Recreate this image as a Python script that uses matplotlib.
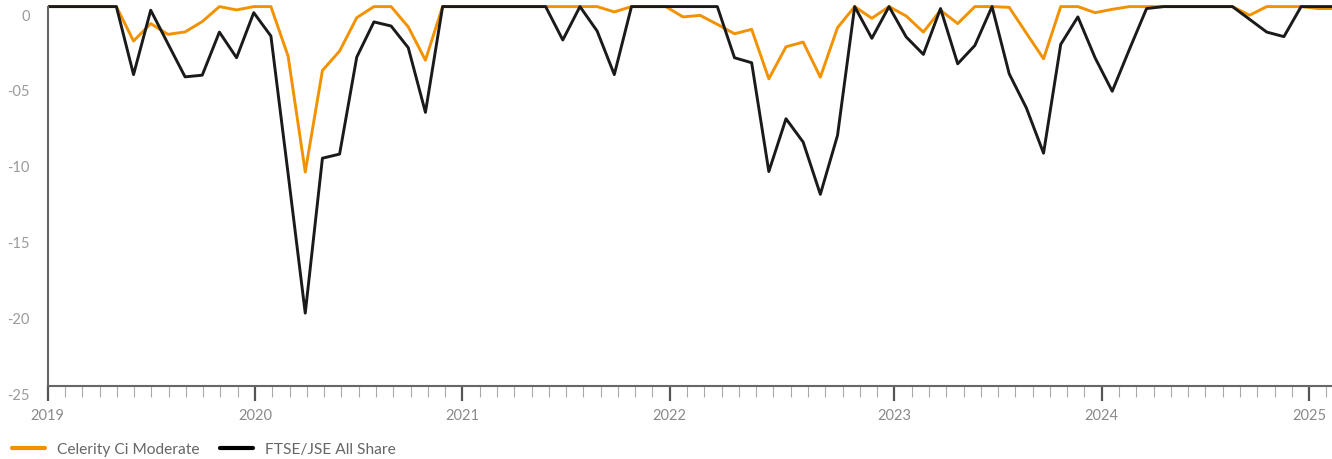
import numpy as np
import matplotlib
matplotlib.use('Agg')
import matplotlib.pyplot as plt
from matplotlib.lines import Line2D
from matplotlib.transforms import ScaledTranslation

# drawdown (%) per month, Jan 2019 onwards
celerity = [0, 0, 0, 0, 0, -2.27, -1.12, -1.83, -1.67, -0.99,
            0, -0.22, 0, 0, -3.26, -10.9, -4.21, -2.93, -0.73, 0,
            0, -1.34, -3.53, 0, 0, 0, 0, 0, 0, 0,
            0, 0, 0, -0.35, 0, 0, 0, -0.68, -0.58, -1.17,
            -1.79, -1.5, -4.76, -2.65, -2.34, -4.65, -1.39, 0, -0.77, 0,
            -0.62, -1.68, -0.24, -1.12, 0, 0, -0.05, -1.75, -3.44, 0,
            0, -0.4, -0.18, 0, 0, 0, 0, 0, 0, 0,
            -0.57, 0, 0, 0, -0.13, -0.13]
ftse = [0, 0, 0, 0, 0, -4.48, -0.24, -2.44, -4.63, -4.52,
        -1.68, -3.37, -0.4, -1.94, -11.0, -20.2, -9.99, -9.72, -3.33, -1.01,
        -1.28, -2.71, -6.97, 0, 0, 0, 0, 0, 0, 0,
        -2.2, 0, -1.61, -4.48, 0, 0, 0, 0, 0, 0,
        -3.37, -3.7, -10.87, -7.39, -8.93, -12.37, -8.49, 0, -2.09, 0,
        -2.0, -3.15, -0.13, -3.77, -2.56, 0, -4.43, -6.68, -9.66, -2.49,
        -0.68, -3.37, -5.58, -2.82, -0.13, 0, 0, 0, 0, 0,
        -0.84, -1.68, -1.98, 0, 0, 0]
series_names = ['Celerity Ci Moderate', 'FTSE/JSE All Share']
year_labels = ['2019', '2020', '2021', '2022', '2023', '2024', '2025']
year_ticks = [0, 12, 24, 36, 49, 61, 73]
y_ticks = [0, -5, -10, -15, -20, -25]
y_labels = ['0', '-05', '-10', '-15', '-20', '-25']

orange = '#f39200'
dark = '#1a1a1a'

plt.rcParams['font.family'] = ['Lato', 'DejaVu Sans']

fig = plt.figure(figsize=(13.32, 4.6), dpi=100)
ax = fig.add_axes([47.7 / 1332, 1 - 387 / 460, 1 - 47.7 / 1332, 387 / 460])

x = np.arange(len(celerity))
ax.plot(x, celerity, color=orange, lw=2.1)
ax.plot(x, ftse, color=dark, lw=2.1)

ax.set_xlim(0, 74.8)
ax.set_ylim(-25, 0.5)

# axis ticks are spaced a touch wider than the points
tick_step = 17.28 / 17.17
ax.set_xticks(np.array(year_ticks) * tick_step, year_labels)
ax.set_xticks(np.arange(0, 75) * tick_step, minor=True)
ax.tick_params(axis='x', which='major', length=11, width=1.6, color='#555555',
               labelcolor='#8a8a8a', labelsize=10.5, pad=5)
ax.tick_params(axis='x', which='minor', length=8, width=0.8, color='#aaaaaa')

ax.set_yticks(y_ticks, y_labels)
ax.tick_params(axis='y', length=0, pad=13, labelcolor='#9a9a9a', labelsize=10.5)
for lab in ax.get_yticklabels():
    lab.set_transform(lab.get_transform() + ScaledTranslation(0, -0.075, fig.dpi_scale_trans))

for s in ['top', 'right']:
    ax.spines[s].set_visible(False)
for s in ['left', 'bottom']:
    ax.spines[s].set_color('#666666')
    ax.spines[s].set_linewidth(1.5)
ax.spines['left'].set_bounds(-25, 0)

handles = [Line2D([], [], color=orange, lw=3, solid_capstyle='round'),
           Line2D([], [], color='black', lw=3, solid_capstyle='round')]
fig.legend(handles, series_names, loc='center left', bbox_to_anchor=(12 / 1332, 1 - 450 / 460),
           ncol=2, frameon=False, fontsize=11.2, handlelength=2.1, handletextpad=0.8,
           columnspacing=1.3, labelcolor='#666666', borderpad=0, borderaxespad=0)

fig.savefig('out.png', dpi=100)
